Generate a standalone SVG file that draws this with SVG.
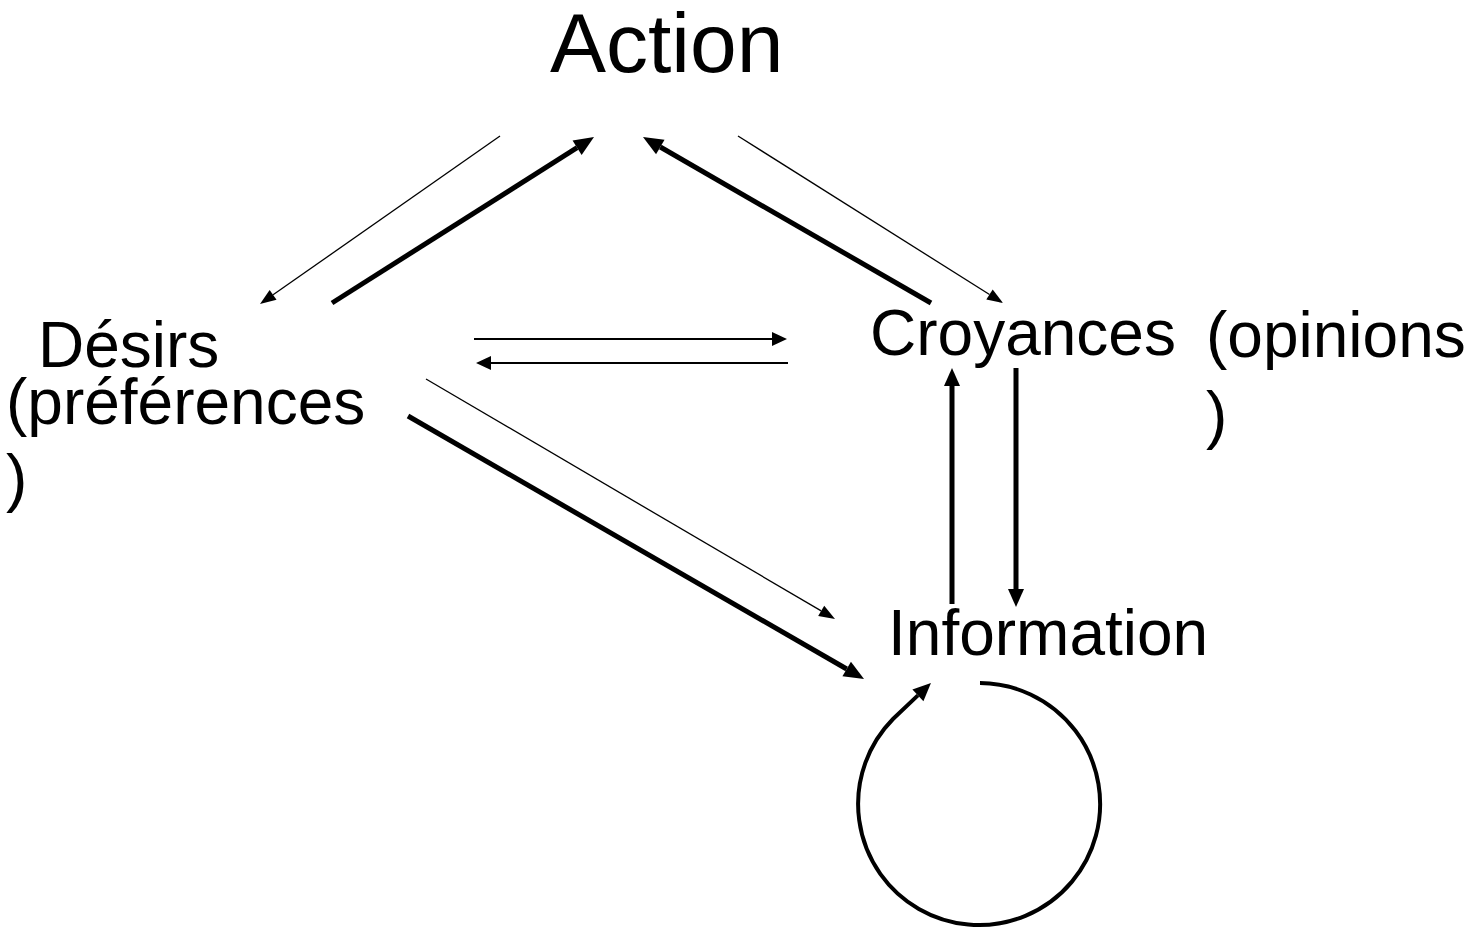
<svg xmlns="http://www.w3.org/2000/svg" width="1475" height="928" viewBox="0 0 1475 928">
<style>
  text { font-family: "Liberation Sans", Arial, sans-serif; fill: #000; }
  .lbl { font-size: 64px; }
  .big { font-size: 84px; }
  .c { fill: none; stroke: #000; }
  .thin { stroke-width: 1.3; }
  .mid { stroke-width: 2; }
  .thick { stroke-width: 5; }
  .loop { stroke-width: 4; }
</style>
<defs>
  <marker id="hs" markerUnits="userSpaceOnUse" markerWidth="16" markerHeight="12" refX="0" refY="6" orient="auto" overflow="visible">
    <path d="M0,0 L16,6 L0,12 z" fill="#000"/>
  </marker>
  <marker id="hm" markerUnits="userSpaceOnUse" markerWidth="15" markerHeight="14" refX="0" refY="7" orient="auto" overflow="visible">
    <path d="M0,0 L15,7 L0,14 z" fill="#000"/>
  </marker>
  <marker id="hl" markerUnits="userSpaceOnUse" markerWidth="20" markerHeight="17" refX="0" refY="8.5" orient="auto" overflow="visible">
    <path d="M0,0 L20,8.5 L0,17 z" fill="#000"/>
  </marker>
  <marker id="hv" markerUnits="userSpaceOnUse" markerWidth="18" markerHeight="16" refX="0" refY="8" orient="auto" overflow="visible">
    <path d="M0,0 L18,8 L0,16 z" fill="#000"/>
  </marker>
</defs>
<rect width="1475" height="928" fill="#fff"/>

<g id="connectors">
  <line class="c thin" x1="500" y1="136" x2="273.1" y2="294.8" marker-end="url(#hs)"/>
  <line class="c thick" x1="332" y1="303" x2="577.1" y2="147.7" marker-end="url(#hl)"/>
  <line class="c thick" x1="931" y1="303" x2="660.3" y2="147" marker-end="url(#hl)"/>
  <line class="c thin" x1="738" y1="136" x2="989.5" y2="294.5" marker-end="url(#hs)"/>
  <line class="c mid" x1="474" y1="339" x2="772" y2="339" marker-end="url(#hm)"/>
  <line class="c mid" x1="788" y1="363" x2="491" y2="363" marker-end="url(#hm)"/>
  <line class="c thin" x1="426" y1="379" x2="821.2" y2="610.9" marker-end="url(#hs)"/>
  <line class="c thick" x1="408" y1="416" x2="846.7" y2="669" marker-end="url(#hl)"/>
  <line class="c thick" x1="952" y1="604" x2="952" y2="386" marker-end="url(#hv)"/>
  <line class="c thick" x1="1016" y1="368" x2="1016" y2="589" marker-end="url(#hv)"/>
  <path class="c loop" d="M980,683 A121,121 0 1 1 893,719 L917.9,695.4" marker-end="url(#hv)"/>
</g>

<g id="node-action">
  <text class="big" x="550" y="72">Action</text>
</g>
<g id="node-desirs">
  <text class="lbl" x="38" y="367">Désirs</text>
  <text class="lbl" x="6" y="424">(préférences</text>
  <text class="lbl" x="6" y="500">)</text>
</g>
<g id="node-croyances">
  <text class="lbl" x="870" y="355">Croyances</text>
  <text class="lbl" x="1206" y="357">(opinions</text>
  <text class="lbl" x="1206" y="437">)</text>
</g>
<g id="node-information">
  <text class="lbl" x="888" y="655">Information</text>
</g>
</svg>
